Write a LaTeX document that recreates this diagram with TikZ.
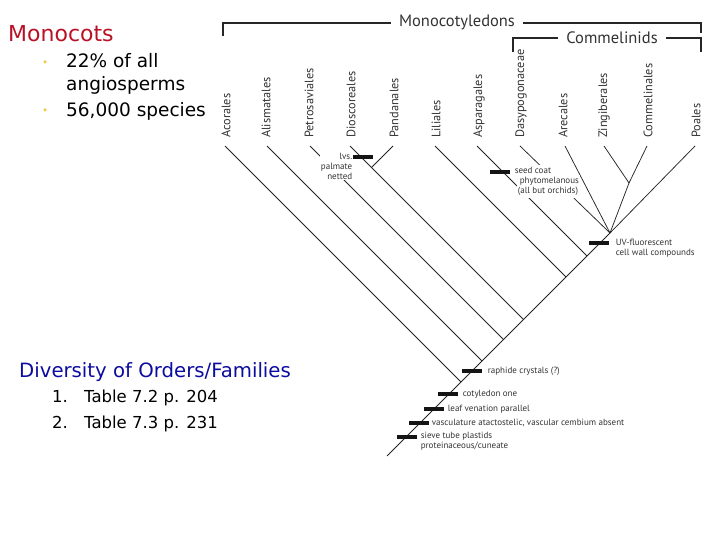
\documentclass[tikz,border=0pt]{standalone}
\usepackage{fontspec}
\setmainfont{PT Sans}
\newfontfamily\comic{DejaVu Sans}
\definecolor{monored}{RGB}{185,18,38}
\definecolor{divblue}{RGB}{12,12,160}
\definecolor{bulletgold}{RGB}{240,200,70}
\begin{document}
\begin{tikzpicture}[x=1pt,y=-1pt,
  branch/.style={draw=black!85, line width=0.75pt},
  bracket/.style={draw=black!85, line width=1.3pt},
  taxon/.style={rotate=90, anchor=west, inner sep=0pt, text=black!80, font=\fontsize{12.3}{13}\selectfont},
  clade/.style={inner xsep=8pt, inner ysep=0pt, text=black!80, font=\fontsize{16.5}{18}\selectfont},
  bar/.style={fill=black!92, minimum width=20pt, minimum height=4.6pt, inner sep=0pt},
  note/.style={inner sep=0.6pt, fill=white, text=black!80, align=left, font=\fontsize{9}{10}\selectfont},
  seedline/.style={note, anchor=base west, inner ysep=1.8pt, text height=6.8pt, text depth=2pt},
  bigtext/.style={inner sep=0pt, anchor=base west},
  bulletdot/.style={circle, fill=bulletgold, minimum size=3.5pt, inner sep=0pt}]
\fill[white] (0,0) rectangle (720,540);
\useasboundingbox (0,0) rectangle (720,540);

% ---------- left texts ----------
\node[bigtext, text=monored, font=\comic\fontsize{22}{24}\selectfont] (monocots) at (8,42) {Monocots};
\node[bulletdot] (b1) at (45,62) {};
\node[bulletdot] (b2) at (45,110) {};
\node[bigtext, font=\comic\fontsize{18.5}{20}\selectfont] (t1) at (66,68) {22\% of all};
\node[bigtext, font=\comic\fontsize{18.5}{20}\selectfont] (t2) at (66,91) {angiosperms};
\node[bigtext, font=\comic\fontsize{18.5}{20}\selectfont] (t3) at (66,117) {56,000 species};
\node[bigtext, text=divblue, font=\comic\fontsize{19.7}{21}\selectfont] (div) at (19,377) {Diversity of Orders/Families};
\node[bigtext, font=\comic\fontsize{16.5}{18}\selectfont] (n1) at (52,402) {1.};
\node[bigtext, font=\comic\fontsize{16.5}{18}\selectfont] (n1t) at (84,402) {Table 7.2 p. 204};
\node[bigtext, font=\comic\fontsize{16.5}{18}\selectfont] (n2) at (52,428) {2.};
\node[bigtext, font=\comic\fontsize{16.5}{18}\selectfont] (n2t) at (84,428) {Table 7.3 p. 231};

% ---------- tree coordinates ----------
\coordinate (tAco) at (225,146);
\coordinate (tAli) at (267,146);
\coordinate (tPet) at (310,146);
\coordinate (tDio) at (350,146);
\coordinate (tPan) at (393,146);
\coordinate (tLil) at (435,146);
\coordinate (tAsp) at (477,146);
\coordinate (tDas) at (520,146);
\coordinate (tAre) at (565,146);
\coordinate (tZin) at (604,146);
\coordinate (tCom) at (647,146);
\coordinate (tPoa) at (695,146);
\coordinate (jDP) at (371.5,167.5);
\coordinate (jZC) at (629,183);
\coordinate (jCm) at (610,233);
\coordinate (root) at (387,456);
\coordinate (sAco) at (461,382);
\coordinate (sAli) at (482,361);
\coordinate (sPet) at (503.5,339.5);
\coordinate (sDP) at (523.5,319.5);
\coordinate (sLil) at (566,277);
\coordinate (sAsp) at (587,256);

% ---------- branches ----------
\draw[branch] (root) -- (jCm) -- (tPoa);
\draw[branch] (tAco) -- (sAco);
\draw[branch] (tAli) -- (sAli);
\draw[branch] (tPet) -- (sPet);
\draw[branch] (tDio) -- (jDP) -- (sDP);
\draw[branch] (tPan) -- (jDP);
\draw[branch] (tLil) -- (sLil);
\draw[branch] (tAsp) -- (sAsp);
\draw[branch] (tDas) -- (jCm);
\draw[branch] (tAre) -- (jCm);
\draw[branch] (tZin) -- (jZC);
\draw[branch] (tCom) -- (jZC);
\draw[branch] (jZC) -- (jCm);

% ---------- taxon labels ----------
\node[taxon] (lAco) at (226,138) {Acorales};
\node[taxon] (lAli) at (266,138) {Alismatales};
\node[taxon] (lPet) at (309,138) {Petrosaviales};
\node[taxon] (lDio) at (351,138) {Dioscoreales};
\node[taxon] (lPan) at (394,138) {Pandanales};
\node[taxon] (lLil) at (436,138) {Liliales};
\node[taxon] (lAsp) at (479,138) {Asparagales};
\node[taxon] (lDas) at (521,138) {Dasypogonaceae};
\node[taxon] (lAre) at (563,138) {Arecales};
\node[taxon] (lZin) at (604,138) {Zingiberales};
\node[taxon] (lCom) at (648,138) {Commelinales};
\node[taxon] (lPoa) at (696,138) {Poales};

% ---------- brackets ----------
\node[clade] (mono) at (457,22) {Monocotyledons};
\node[clade] (comm) at (612,38) {Commelinids};
\coordinate (mL) at (223,36);
\coordinate (mLt) at (223,23);
\coordinate (mRt) at (701,23);
\coordinate (mR) at (701,33);
\coordinate (cL) at (513,52);
\coordinate (cLt) at (513,38);
\coordinate (cRt) at (701,38);
\coordinate (cR) at (701,52);
\draw[bracket] (mL) -- (mLt) -- (mono.west |- mLt);
\draw[bracket] (mono.east |- mRt) -- (mRt) -- (mR);
\draw[bracket] (cL) -- (cLt) -- (comm.west |- cLt);
\draw[bracket] (comm.east |- cRt) -- (cRt) -- (cR);

% ---------- character bars ----------
\node[bar] (bLvs) at (363,157) {};
\node[bar] (bSeed) at (500,172) {};
\node[bar] (bUV) at (599,243) {};
\node[bar] (bRaph) at (472,371) {};
\node[bar] (bCot) at (448,394) {};
\node[bar] (bLeaf) at (434,409) {};
\node[bar] (bVasc) at (419,423) {};
\node[bar] (bSieve) at (407,437) {};

% ---------- notes ----------
\node[note, align=right, anchor=east] (nLvs) at (353,166) {lvs.\\palmate\\netted};
\node[seedline] (nSeedA) at (514,174) {seed coat};
\node[seedline] (nSeedB) at (519,184) {phytomelanous};
\node[seedline] (nSeedC) at (517,194) {(all but orchids)};
\node[note, anchor=west] (nUV) at (615,248.5) {UV-fluorescent\\cell wall compounds};
\node[note, anchor=west] (nRaph) at (487,371) {raphide crystals (?)};
\node[note, anchor=west] (nCot) at (462,394) {cotyledon one};
\node[note, anchor=west] (nLeaf) at (447,409) {leaf venation parallel};
\node[note, anchor=west] (nVasc) at (431,423) {vasculature atactostelic, vascular cembium absent};
\node[note, anchor=west] (nSieve) at (420,441.5) {sieve tube plastids\\proteinaceous/cuneate};
\end{tikzpicture}
\end{document}
